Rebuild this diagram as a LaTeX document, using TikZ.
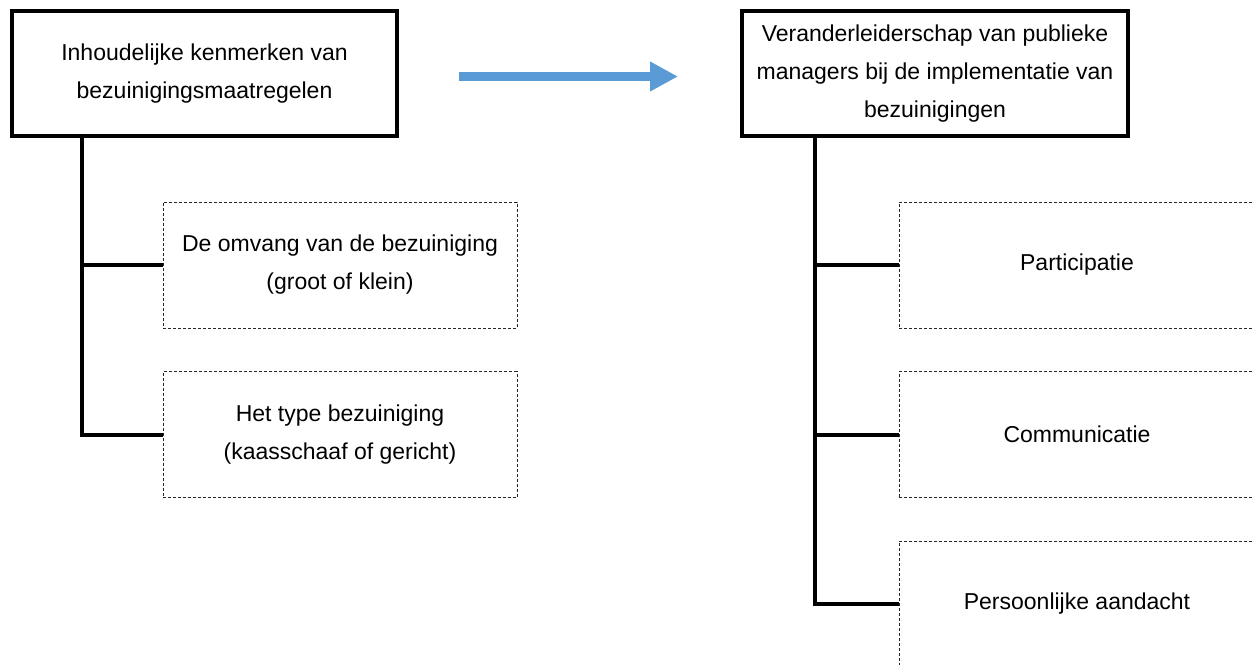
\documentclass[tikz,border=0pt]{standalone}
\usepackage{fontspec}
\setmainfont{Liberation Sans}
\usetikzlibrary{arrows.meta}
\definecolor{arrowblue}{HTML}{5B9BD5}
\begin{document}
\begin{tikzpicture}[x=1pt,y=-1pt,
  mainbox/.style={draw, line width=4.5pt, rectangle, inner sep=0pt, align=center,
    font=\fontsize{23}{38}\selectfont},
  subbox/.style={draw=black!85, line width=1pt, dash pattern=on 3pt off 2pt, rectangle,
    inner sep=0pt, minimum width=354pt, minimum height=126pt, align=center,
    font=\fontsize{23}{38}\selectfont},
  link/.style={line width=4pt, line join=miter}]
\useasboundingbox (0,0) rectangle (1252,664);
\clip (0,0) rectangle (1252,664);

\node[mainbox, minimum width=385pt, minimum height=125pt] (L) at (204.5,73.5)
  {Inhoudelijke kenmerken van\\bezuinigingsmaatregelen};
\node[mainbox, minimum width=386pt, minimum height=125pt] (R) at (935,73.5)
  {Veranderleiderschap van publieke\\managers bij de implementatie van\\bezuinigingen};

\node[subbox] (L1) at (340,265) {De omvang van de bezuiniging\\(groot of klein)};
\node[subbox] (L2) at (340,434.5) {Het type bezuiniging\\(kaasschaaf of gericht)};

\node[subbox, minimum width=356pt] (R1) at (1077,265) {Participatie};
\node[subbox, minimum width=356pt] (R2) at (1077,434.5) {Communicatie};
\node[subbox, minimum width=356pt] (R3) at (1077,604) {Persoonlijke aandacht};

\coordinate (lx) at (82,0);
\coordinate (rx) at (815,0);

\draw[link] (L.south -| lx) -- (L2.west -| lx) -- (L2.west);
\draw[link] (L1.west -| lx) -- (L1.west);

\draw[link] (R.south -| rx) -- (R3.west -| rx) -- (R3.west);
\draw[link] (R1.west -| rx) -- (R1.west);
\draw[link] (R2.west -| rx) -- (R2.west);

\coordinate (a1) at (459,76.5);
\coordinate (a2) at (678,76.5);
\draw[arrowblue, line width=9pt, -{Triangle[length=28pt,width=28pt]}] (a1) -- (a2);
\end{tikzpicture}
\end{document}
